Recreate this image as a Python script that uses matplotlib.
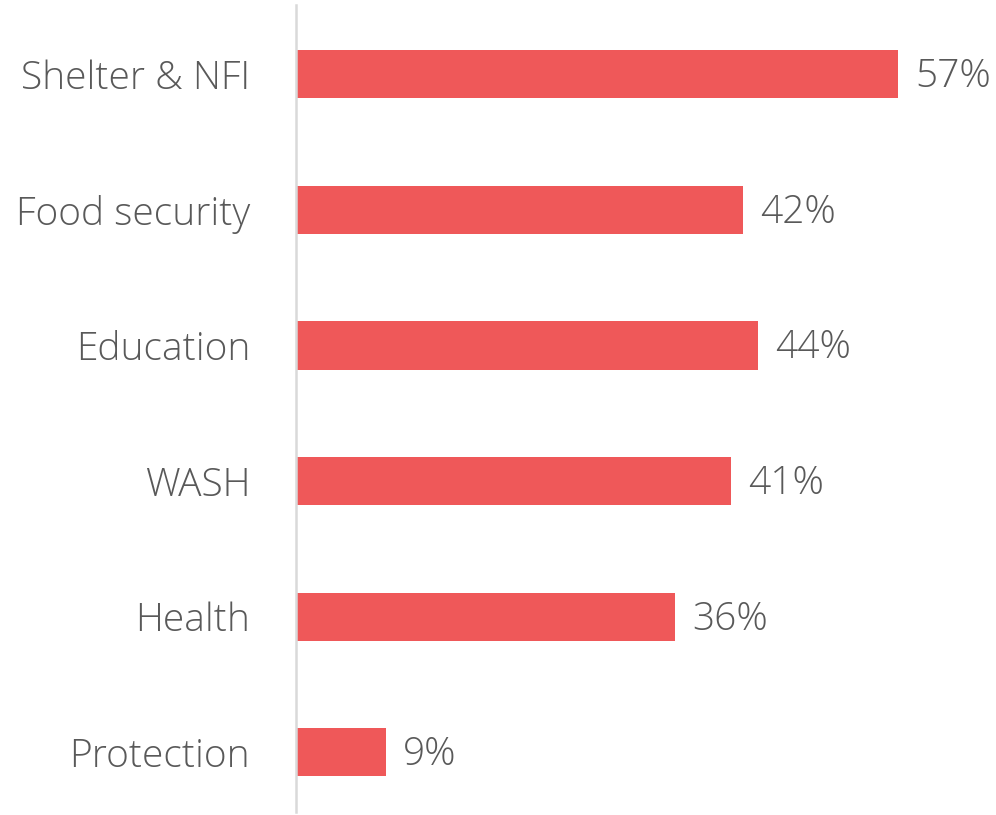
import matplotlib
matplotlib.use("Agg")
import matplotlib.pyplot as plt

categories = ["Shelter & NFI", "Food security", "Education", "WASH", "Health", "Protection"]
values = [57, 42.3, 43.7, 41.2, 35.9, 8.5]
labels = ["57%", "42%", "44%", "41%", "36%", "9%"]

plt.rcParams['font.family'] = ['Open Sans', 'DejaVu Sans']

fig = plt.figure(figsize=(9.96, 8.15), dpi=100)
W, H = 996, 815
ax = fig.add_axes([296 / W, (H - 812) / H, 634 / W, 807 / H])

ypos = list(range(len(categories)))
ax.barh(ypos, values, height=0.355, color="#EF5859")
ax.set_xlim(0, 60)
ax.set_ylim(5.44, -0.51)

for y, v, lab in zip(ypos, values, labels):
    ax.text(v + 1.6, y + 0.02, lab, va="center", ha="left", fontsize=28,
            color="#595959", fontweight="light")

ax.set_yticks(ypos)
ax.set_yticklabels(categories, fontsize=28, color="#595959", fontweight="light")
ax.tick_params(axis="y", length=0, pad=33)
ax.set_xticks([])
for s in ["top", "right", "bottom"]:
    ax.spines[s].set_visible(False)
ax.spines["left"].set_color("#D9D9D9")
ax.spines["left"].set_linewidth(1.8)

fig.savefig("out.png", dpi=100)
